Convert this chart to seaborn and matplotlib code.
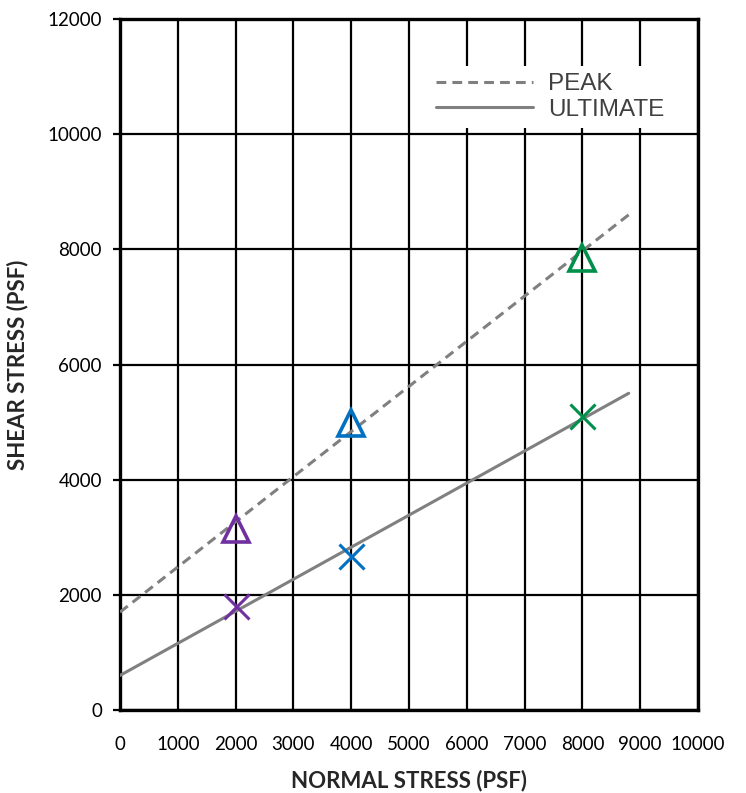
import pandas as pd
import matplotlib.pyplot as plt
import seaborn as sns

# test points
normal_stress = [2000, 4000, 8000]
peak_shear = [3150, 4980, 7850]
ultimate_shear = [1800, 2680, 5100]
point_colors = ['#7030A0', '#0070C0', '#00904C']

# fitted envelopes
line_x = [0, 8800]
peak_line = [1700, 8600]
ultimate_line = [600, 5500]

x_ticks = list(range(0, 10001, 1000))
y_ticks = list(range(0, 12001, 2000))

sns.set_style('white')
plt.rcParams['font.family'] = ['Lato', 'DejaVu Sans']

fig = plt.figure(figsize=(7.46, 7.93), dpi=100)
ax = fig.add_axes([0.1609, 0.1047, 0.7748, 0.8713])

lines_df = pd.DataFrame({'x': line_x * 2,
                         'y': peak_line + ultimate_line,
                         'kind': ['PEAK'] * 2 + ['ULTIMATE'] * 2})
sns.lineplot(data=lines_df, x='x', y='y', style='kind',
             dashes={'PEAK': (3.2, 2.0), 'ULTIMATE': ''},
             color='#808080', linewidth=2.2, ax=ax, zorder=3)

pts = pd.DataFrame({'x': normal_stress, 'peak': peak_shear,
                    'ult': ultimate_shear, 'c': point_colors})
for _, r in pts.iterrows():
    ax.plot(r['x'], r['peak'], marker='^', markersize=19, markerfacecolor='none',
            markeredgecolor=r['c'], markeredgewidth=2.6, linestyle='none', zorder=4)
    ax.plot(r['x'], r['ult'], marker='x', markersize=18,
            markeredgecolor=r['c'], markeredgewidth=2.2, linestyle='none', zorder=4)

ax.set_xlim(0, 10000)
ax.set_ylim(0, 12000)
ax.set_xticks(x_ticks)
ax.set_yticks(y_ticks)
ax.grid(True, color='black', linewidth=1.6)
ax.set_axisbelow(True)
for s in ax.spines.values():
    s.set_color('black')
    s.set_linewidth(2.4)
ax.tick_params(axis='both', labelsize=13.5, colors='black', length=5, width=1.6,
               direction='out', left=True, bottom=False)
ax.tick_params(axis='x', pad=14)
ax.tick_params(axis='y', pad=8)

ax.set_xlabel('NORMAL STRESS (PSF)', fontsize=16, fontweight='bold', labelpad=12)
ax.set_ylabel('SHEAR STRESS (PSF)', fontsize=16, fontweight='bold', labelpad=14)

handles, labels = ax.get_legend_handles_labels()
leg = ax.legend(handles, labels, loc='upper right', bbox_to_anchor=(0.975, 0.95),
                frameon=True, fancybox=False, edgecolor='white', framealpha=1,
                handlelength=4.0, handletextpad=0.6,
                prop={'family': 'Liberation Sans', 'size': 17.5},
                labelcolor='#404040', borderpad=0.3, labelspacing=0.15)
leg.get_frame().set_linewidth(0)

fig.savefig('out.png', dpi=100)
